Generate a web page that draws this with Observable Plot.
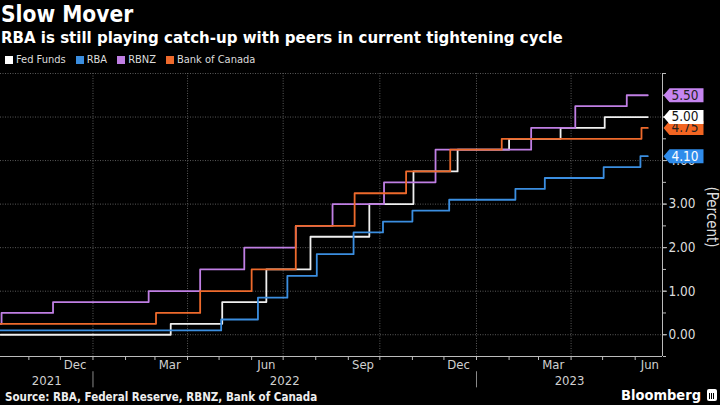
<!DOCTYPE html>
<html>
<head>
<meta charset="utf-8">
<script src="https://cdn.jsdelivr.net/npm/d3@7"></script>
<script src="https://cdn.jsdelivr.net/npm/@observablehq/plot@0.6"></script>
<style>
  html, body { margin: 0; padding: 0; background: #000; }
  body { width: 720px; height: 405px; overflow: hidden; position: relative;
         font-family: "DejaVu Sans Condensed", "DejaVu Sans", sans-serif; color: #fff; }
  #title { position: absolute; left: 1px; top: 2px; font-size: 22.5px; font-weight: bold; line-height: 25px; }
  #subtitle { position: absolute; left: 1px; top: 27px; font-size: 16.7px; font-weight: bold; line-height: 20px; }
  #legend { position: absolute; left: 5px; top: 53px; font-size: 11px; line-height: 14px; color: #ddd; display: flex; align-items: center; }
  #legend .item { display: flex; align-items: center; margin-right: 10px; }
  #legend .sw { width: 8px; height: 8px; margin-right: 3px; display: inline-block; }
  #chart { position: absolute; left: 0; top: 68px; }
  #ylabel { position: absolute; left: 712px; top: 217px; transform: translate(-50%, -50%) rotate(90deg);
            font-size: 15px; color: #ddd; white-space: nowrap; }
  #source { position: absolute; left: 5px; top: 390px; font-size: 11.5px; line-height: 14px; font-weight: bold; color: #eee; }
  #brand { position: absolute; right: 3px; top: 386px; font-size: 14.5px; line-height: 18px; font-weight: bold; color: #fff; display: flex; align-items: center; }
  #brand .icon { width: 10px; height: 12px; background: #fff; border-radius: 2px; margin-left: 6px; position: relative; }
  #brand .icon::after { content: ""; position: absolute; left: 2px; bottom: 2px; width: 6px; height: 6px;
                        background: repeating-linear-gradient(90deg, #000 0 1px, #fff 1px 2px); }
</style>
</head>
<body>
<div id="title">Slow Mover</div>
<div id="subtitle">RBA is still playing catch-up with peers in current tightening cycle</div>
<div id="legend"></div>
<div id="chart"></div>
<div id="ylabel">(Percent)</div>
<div id="source">Source: RBA, Federal Reserve, RBNZ, Bank of Canada</div>
<div id="brand">Bloomberg<span class="icon"></span></div>
<script>
// ---------------- DATA ----------------
const seriesNames = ["Fed Funds", "RBA", "RBNZ", "Bank of Canada"];

const fedDates = ["2021-10-05","2022-03-16","2022-05-04","2022-06-15","2022-07-27","2022-09-21","2022-11-02","2022-12-14","2023-02-01","2023-03-22","2023-05-03","2023-06-13"];
const fedRates = [0, 0.25, 0.75, 1.5, 2.25, 3.0, 3.75, 4.25, 4.5, 4.75, 5.0, 5.0];

const rbaDates = ["2021-10-05","2022-05-03","2022-06-07","2022-07-05","2022-08-02","2022-09-06","2022-10-04","2022-11-01","2022-12-06","2023-02-07","2023-03-07","2023-05-02","2023-06-06","2023-06-13"];
const rbaRates = [0.1, 0.35, 0.85, 1.35, 1.85, 2.35, 2.6, 2.85, 3.1, 3.35, 3.6, 3.85, 4.1, 4.1];

const rbnzDates = ["2021-10-05","2021-10-06","2021-11-24","2022-02-23","2022-04-13","2022-05-25","2022-07-13","2022-08-17","2022-10-05","2022-11-23","2023-02-22","2023-04-05","2023-05-24","2023-06-13"];
const rbnzRates = [0.25, 0.5, 0.75, 1.0, 1.5, 2.0, 2.5, 3.0, 3.5, 4.25, 4.75, 5.25, 5.5, 5.5];

const bocDates = ["2021-10-05","2022-03-02","2022-04-13","2022-06-01","2022-07-13","2022-09-07","2022-10-26","2022-12-07","2023-01-25","2023-06-07","2023-06-13"];
const bocRates = [0.25, 0.5, 1.0, 1.5, 2.5, 3.25, 3.75, 4.25, 4.5, 4.75, 4.75];

// latest-value labels (drawn in this order: 4.75 sits behind 5.00)
const labelSeries = ["RBA", "Bank of Canada", "Fed Funds", "RBNZ"];
const labelValues = [4.10, 4.75, 5.00, 5.50];

const yTickValues = [0, 1, 2, 3, 4, 5];
const monthLabelDates = ["2021-12-15","2022-03-15","2022-06-15","2022-09-15","2022-12-15","2023-03-15","2023-06-15"];
const monthLabelText = ["Dec","Mar","Jun","Sep","Dec","Mar","Jun"];
const yearLabels = ["2021","2022","2023"];
const xDomain = ["2021-10-05", "2023-06-27"];

// ---------------- STYLE ----------------
const lineColors = {"Fed Funds": "#f0f0f0", "RBA": "#3b8ee0", "RBNZ": "#c07fe4", "Bank of Canada": "#ee6a2c"};
const boxColors  = {"Fed Funds": "#ffffff", "RBA": "#2f8ceb", "RBNZ": "#c685f0", "Bank of Canada": "#f26522"};
const boxText    = {"Fed Funds": "#111", "RBA": "#fff", "RBNZ": "#222", "Bank of Canada": "#222"};
const FONT = '"DejaVu Sans Condensed", "DejaVu Sans", sans-serif';

// ---------------- BUILD ----------------
const parse = d3.utcParse("%Y-%m-%d");
const rows = [];
[[fedDates, fedRates, "Fed Funds"], [rbaDates, rbaRates, "RBA"], [rbnzDates, rbnzRates, "RBNZ"], [bocDates, bocRates, "Bank of Canada"]]
  .forEach(([ds, vs, name]) => ds.forEach((d, i) => rows.push({date: parse(d), rate: vs[i], series: name})));

const x0 = parse(xDomain[0]), x1 = parse(xDomain[1]);
const months = d3.utcMonth.range(d3.utcMonth.ceil(x0), x1);
const quarters = d3.utcMonth.every(3).range(d3.utcMonth.ceil(x0), x1);
const yearStarts = d3.utcYear.range(d3.utcYear.ceil(x0), x1);
const monthLabels = monthLabelDates.map((d, i) => ({date: parse(d), text: monthLabelText[i]}));
const yearRows = yearLabels.map(y => {
  const s = new Date(Date.UTC(+y, 0, 1)), e = new Date(Date.UTC(+y + 1, 0, 1));
  const a = s < x0 ? x0 : s, b = e > x1 ? x1 : e;
  return {date: new Date((+a + +b) / 2), text: y};
});
const labels = labelSeries.map((s, i) => ({series: s, value: labelValues[i]}));

// Left-pointing tag shape for the end-value labels
const tag = {draw(ctx) {
  ctx.moveTo(1, 0); ctx.lineTo(7, -7); ctx.lineTo(41, -7); ctx.lineTo(41, 7); ctx.lineTo(7, 7); ctx.closePath();
}};

const chart = Plot.plot({
  width: 720, height: 320,
  marginLeft: 0, marginRight: 58, marginTop: 5, marginBottom: 32,
  style: {background: "#000", color: "#ddd", fontFamily: FONT, fontSize: "13px"},
  x: {type: "utc", domain: [x0, x1], axis: null},
  y: {domain: [-0.5, 6], axis: null},
  color: {domain: seriesNames, range: seriesNames.map(s => lineColors[s])},
  marks: [
    Plot.gridY(d3.range(0, 6.01, 1), {stroke: "#777", strokeOpacity: 0.75, strokeDasharray: "1,1.5"}),
    Plot.gridX(quarters, {stroke: "#777", strokeOpacity: 0.75, strokeDasharray: "1,1.5"}),
    Plot.ruleY([-0.5], {stroke: "#bbb", strokeWidth: 1}),
    Plot.ruleX([x1], {stroke: "#bbb", strokeWidth: 1}),
    Plot.axisY({anchor: "right", ticks: d3.range(-0.5, 6.01, 0.5), tickSize: 3, tickFormat: () => "", stroke: "#bbb"}),
    Plot.axisY({anchor: "right", ticks: yTickValues, tickSize: 4, tickPadding: 2, tickFormat: d3.format(".2f"), stroke: "#bbb", fill: "#ddd", fontSize: 13.5}),
    Plot.axisX({ticks: months, tickSize: 4, tickFormat: () => "", stroke: "#bbb"}),
    Plot.text(monthLabels, {x: "date", text: "text", frameAnchor: "bottom", dy: 12, fill: "#d0d0d0", fontSize: 13}),
    Plot.text(yearRows, {x: "date", text: "text", frameAnchor: "bottom", dy: 28, fill: "#d0d0d0", fontSize: 13}),
    Plot.ruleX(yearStarts, {y1: -0.85, y2: -1.22, stroke: "#888"}),
    Plot.line(rows, {x: "date", y: "rate", z: "series", stroke: "series", curve: "step-after", strokeWidth: 1.8}),
    ...labels.flatMap(r => [
      Plot.dot([r], {y: "value", frameAnchor: "right", symbol: tag, fill: boxColors[r.series], stroke: "none"}),
      Plot.text([r], {y: "value", frameAnchor: "right", text: d => d.value.toFixed(2), dx: 9, textAnchor: "start", fill: boxText[r.series], fontSize: 13.5})
    ])
  ]
});
document.getElementById("chart").appendChild(chart);

// legend
const lg = document.getElementById("legend");
seriesNames.forEach(s => {
  const it = document.createElement("span"); it.className = "item";
  const sw = document.createElement("span"); sw.className = "sw"; sw.style.background = boxColors[s] === "#ffffff" ? "#fff" : lineColors[s];
  it.appendChild(sw); it.appendChild(document.createTextNode(s)); lg.appendChild(it);
});
</script>
</body>
</html>
